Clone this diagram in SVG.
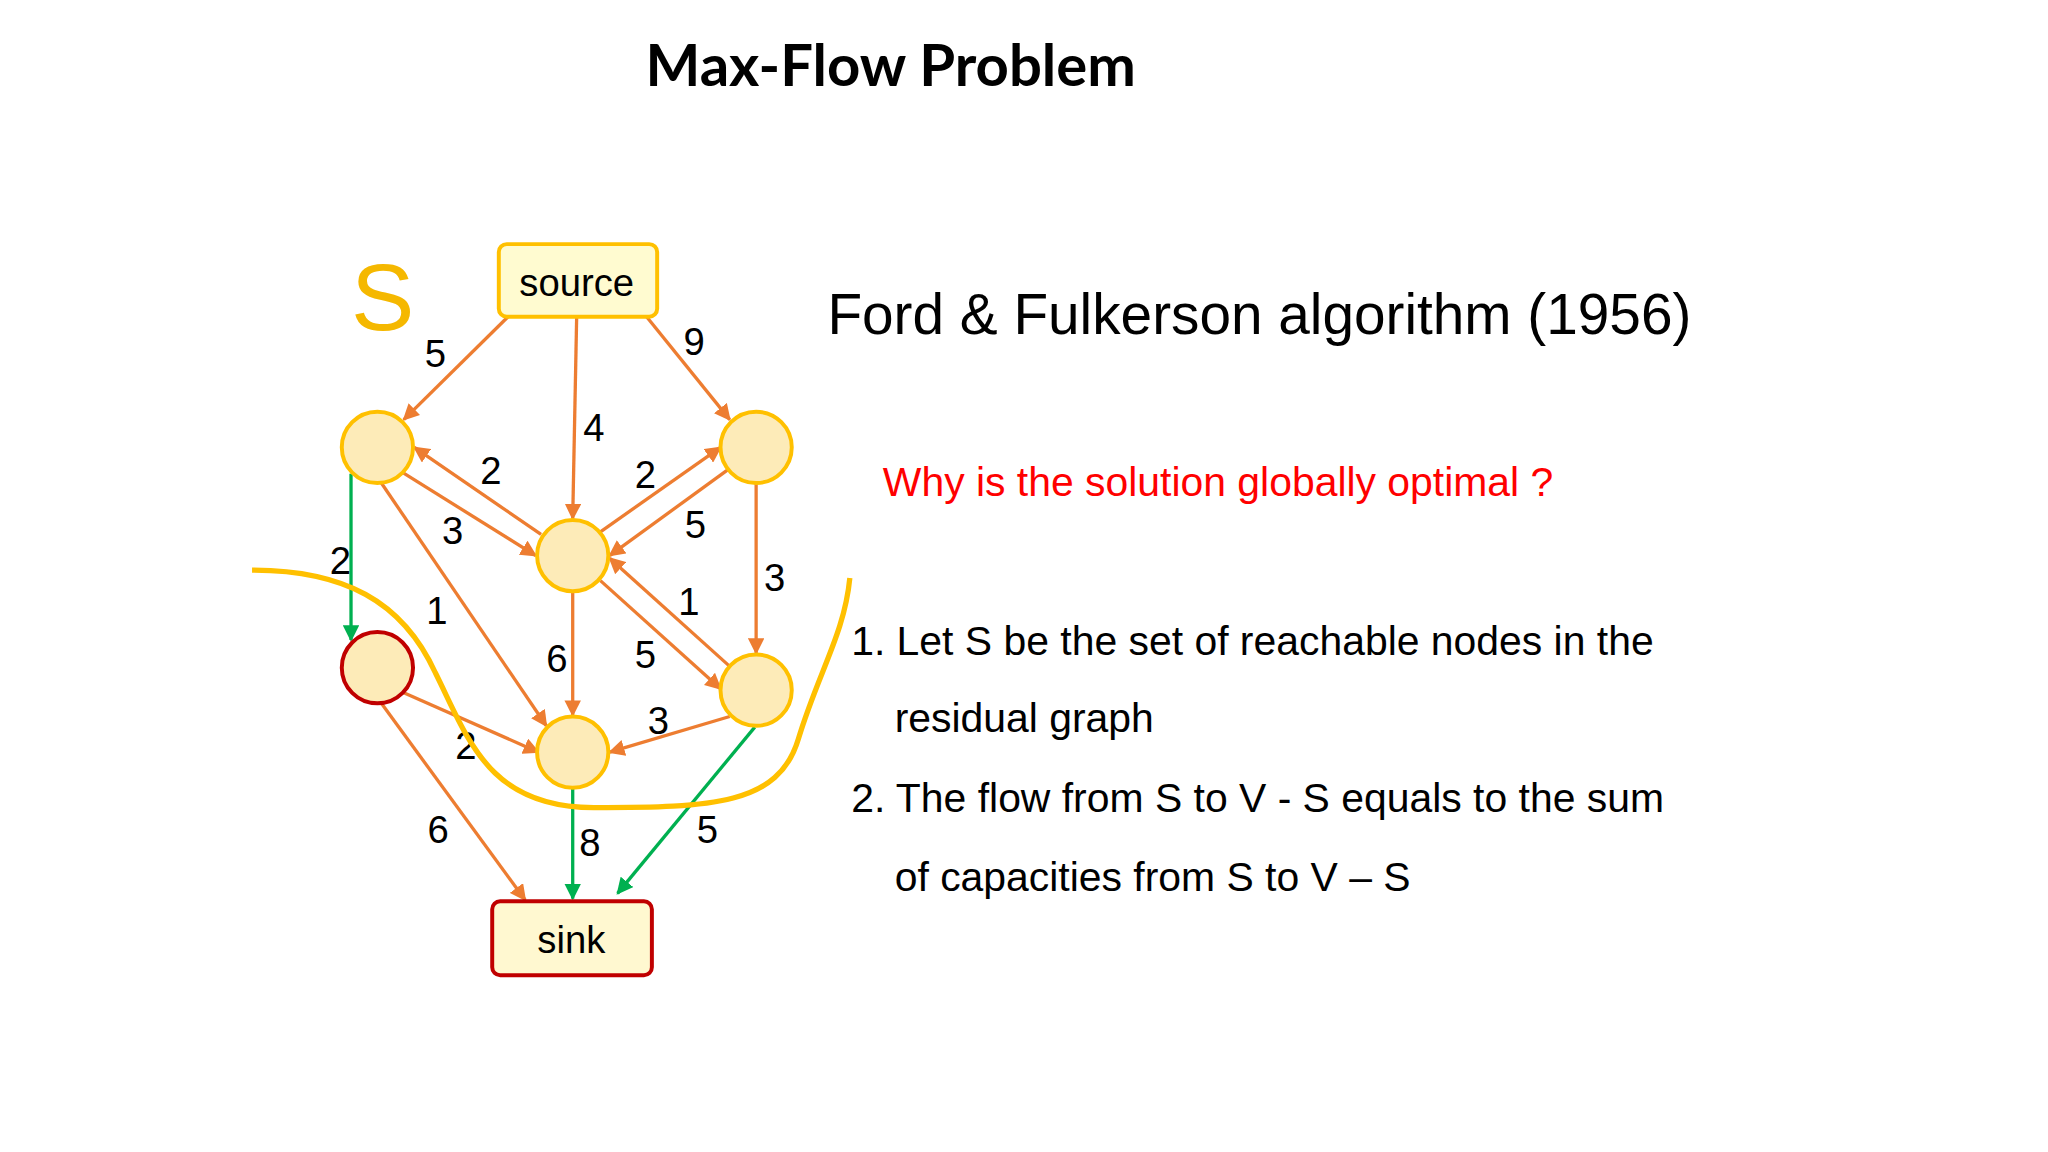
<svg xmlns="http://www.w3.org/2000/svg" width="2048" height="1152" viewBox="0 0 2048 1152">
<defs>
<marker id="ao" viewBox="0 0 10 10" refX="9" refY="5" markerWidth="5" markerHeight="5" orient="auto"><path d="M0,0L10,5L0,10z" fill="#ED7D31"/></marker>
<marker id="ag" viewBox="0 0 10 10" refX="9" refY="5" markerWidth="5" markerHeight="5" orient="auto"><path d="M0,0L10,5L0,10z" fill="#00B050"/></marker>
<style>
.o{stroke:#ED7D31;stroke-width:2.5;fill:none;marker-end:url(#ao)}
.g{stroke:#00B050;stroke-width:2.5;fill:none;marker-end:url(#ag)}
.n{fill:#FDEBB8;stroke:#FFC000;stroke-width:3}
.l{font-family:"Liberation Sans",Arial,sans-serif;font-size:29px;fill:#000;text-anchor:middle}
.t{font-family:"Liberation Sans",Arial,sans-serif;font-size:31px;fill:#000}
</style>
</defs>
<rect width="2048" height="1152" fill="#fff"/>
<g transform="scale(1.3196)">
<text x="675" y="65" text-anchor="middle" font-family="Lato,'Liberation Sans',sans-serif" font-weight="bold" font-size="44">Max-Flow Problem</text>
<text x="290" y="250" text-anchor="middle" font-family="'Liberation Sans',Arial,sans-serif" font-size="72" fill="#F5B800">S</text>
<g id="connectors">
<line class="o" x1="385" y1="240" x2="306" y2="318"/>
<line class="o" x1="437" y1="240" x2="434" y2="393"/>
<line class="o" x1="490" y1="240" x2="553" y2="318"/>
<line class="o" x1="410" y1="405" x2="314" y2="339"/>
<line class="o" x1="305" y1="358" x2="406" y2="421"/>
<line class="o" x1="455" y1="403" x2="546" y2="339"/>
<line class="o" x1="553" y1="355" x2="462" y2="421"/>
<line class="o" x1="573" y1="366" x2="573" y2="495"/>
<line class="o" x1="289" y1="366" x2="414" y2="550"/>
<line class="o" x1="434" y1="448" x2="434" y2="542"/>
<line class="o" x1="455" y1="440" x2="546" y2="522"/>
<line class="o" x1="553" y1="505" x2="462" y2="423"/>
<line class="o" x1="553" y1="543" x2="462" y2="570"/>
<line class="o" x1="306" y1="525" x2="408" y2="570"/>
<line class="o" x1="289" y1="533" x2="398" y2="682"/>
<line class="g" x1="266" y1="359" x2="266" y2="485"/>
<line class="g" x1="434" y1="597" x2="434" y2="681"/>
<line class="g" x1="572" y1="551" x2="468" y2="677"/>
</g>
<g id="labels">
<text class="l" x="330" y="278">5</text>
<text class="l" x="450" y="334">4</text>
<text class="l" x="526" y="269">9</text>
<text class="l" x="372" y="367">2</text>
<text class="l" x="343" y="412">3</text>
<text class="l" x="489" y="370">2</text>
<text class="l" x="527" y="408">5</text>
<text class="l" x="587" y="448">3</text>
<text class="l" x="331" y="473">1</text>
<text class="l" x="422" y="509">6</text>
<text class="l" x="489" y="506">5</text>
<text class="l" x="522" y="466">1</text>
<text class="l" x="499" y="556">3</text>
<text class="l" x="353" y="575">2</text>
<text class="l" x="332" y="639">6</text>
<text class="l" x="258" y="435">2</text>
<text class="l" x="447" y="649">8</text>
<text class="l" x="536" y="639">5</text>
</g>
<g id="source"><rect x="378" y="185" width="120" height="55" rx="6" fill="#FFFBD0" stroke="#FFC000" stroke-width="3"/><text class="l" x="437" y="224">source</text></g>
<g id="nA"><circle class="n" cx="286" cy="339" r="27"/></g>
<g id="nB"><circle class="n" cx="573" cy="339" r="27"/></g>
<g id="nC"><circle class="n" cx="434" cy="421" r="27"/></g>
<g id="nD"><circle cx="286" cy="506" r="27" fill="#FDEBB8" stroke="#C00000" stroke-width="3"/></g>
<g id="nE"><circle class="n" cx="573" cy="523" r="27"/></g>
<g id="nF"><circle class="n" cx="434" cy="570" r="27"/></g>
<g id="sink"><rect x="373" y="683" width="121" height="56" rx="6" fill="#FFF8D0" stroke="#C00000" stroke-width="3"/><text class="l" x="433" y="722">sink</text></g>
<path d="M191,432 C260,432 305,455 330,510 C355,560 370,612 450,612 C540,612 590,610 605,560 C620,510 640,480 644,438" fill="none" stroke="#FFC000" stroke-width="4"/>
<text x="627" y="253" font-family="'Liberation Sans',Arial,sans-serif" font-size="43">Ford &amp; Fulkerson algorithm (1956)</text>
<text x="669" y="376" font-family="'Liberation Sans',Arial,sans-serif" font-size="31" fill="#FF0000">Why is the solution globally optimal ?</text>
<text class="t" x="645" y="496">1. Let S be the set of reachable nodes in the</text>
<text class="t" x="678" y="555">residual graph</text>
<text class="t" x="645" y="615">2. The flow from S to V - S equals to the sum</text>
<text class="t" x="678" y="675">of capacities from S to V – S</text>
</g>
</svg>
